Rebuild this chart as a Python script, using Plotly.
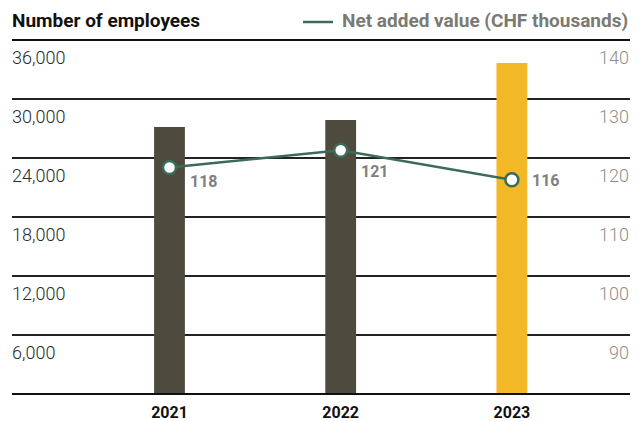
import plotly.graph_objects as go

years = ["2021", "2022", "2023"]
employees = [27150, 27860, 33660]
net_added_value = [118.4, 121.3, 116.3]
value_labels = ["118", "121", "116"]
bar_colors = ["#4e4a3e", "#4e4a3e", "#f2b826"]
left_ticks = [6000, 12000, 18000, 24000, 30000, 36000]
left_tick_text = ["6,000", "12,000", "18,000", "24,000", "30,000", "36,000"]
right_ticks = [90, 100, 110, 120, 130, 140]
right_tick_text = ["90", "100", "110", "120", "130", "140"]

FONT = "Roboto"
GREEN = "#3d6b5a"

fig = go.Figure()
fig.add_trace(go.Bar(
    x=years, y=employees, marker_color=bar_colors, width=0.18,
    marker_line_width=0, yaxis="y", showlegend=False, hoverinfo="skip",
))
fig.add_trace(go.Scatter(
    x=years, y=net_added_value, mode="lines+markers", yaxis="y2",
    line=dict(color=GREEN, width=2.5),
    marker=dict(size=13, color="white", line=dict(color=GREEN, width=2.5)),
    showlegend=False, hoverinfo="skip",
))

label_yshift = [-14, -21, -1]
for i, (y, t, ys) in enumerate(zip(net_added_value, value_labels, label_yshift)):
    fig.add_annotation(
        x=i, y=y, xref="x", yref="y2", text=t, showarrow=False,
        xshift=34, yshift=ys,
        font=dict(family=FONT, size=16, color="#808080", weight="bold"),
    )

# title & legend
fig.add_annotation(
    x=0, y=1, xref="paper", yref="paper", xanchor="left", yanchor="bottom",
    xshift=-2, yshift=6, text="Number of employees", showarrow=False,
    font=dict(family=FONT, size=19, color="#111111", weight="bold"),
)
fig.add_annotation(
    x=1, y=1, xref="paper", yref="paper", xanchor="right", yanchor="bottom",
    xshift=0, yshift=6, text="Net added value (CHF thousands)", showarrow=False,
    font=dict(family=FONT, size=19, color="#7a7a72", weight="bold"),
)
fig.add_shape(type="line", xref="paper", yref="paper",
              x0=(303 - 12) / 618, x1=(333 - 12) / 618,
              ysizemode="pixel", yanchor=1, y0=18, y1=18,
              line=dict(color=GREEN, width=2.5))

# top and bottom rules
fig.add_shape(type="line", xref="paper", yref="paper", x0=0, x1=1, y0=1, y1=1,
              line=dict(color="#111111", width=2), layer="below")
fig.add_shape(type="line", xref="paper", yref="paper", x0=0, x1=1, y0=0, y1=0,
              line=dict(color="#111111", width=2), layer="above")

fig.update_layout(
    width=641, height=421,
    margin=dict(l=12, r=11, t=40, b=27, autoexpand=False),
    plot_bgcolor="white", paper_bgcolor="white",
    font=dict(family=FONT),
    xaxis=dict(
        type="category", range=[-0.92, 2.69], showgrid=False, zeroline=False,
        showline=False, ticks="", ticklabelstandoff=7, automargin=False,
        tickfont=dict(family=FONT, size=16, color="#111111", weight="bold"),
    ),
    yaxis=dict(
        range=[0, 36000], tickvals=left_ticks, ticktext=left_tick_text,
        showgrid=True, gridcolor="#222222", gridwidth=1.5, zeroline=False,
        showline=False, ticks="", ticklabelposition="inside bottom",
        ticklabelshift=5, ticklabelstandoff=-3, automargin=False,
        tickfont=dict(family=FONT, size=18, color="#2a2a2a", weight=300),
    ),
    yaxis2=dict(
        range=[80, 140], tickvals=right_ticks, ticktext=right_tick_text,
        overlaying="y", side="right", showgrid=False, zeroline=False,
        showline=False, ticks="", ticklabelposition="inside bottom",
        ticklabelshift=5, ticklabelstandoff=-2, automargin=False,
        tickfont=dict(family=FONT, size=18, color="#8f8f8a", weight=300),
    ),
)

fig.write_html("out.html", post_script="document.body.style.margin='0';",
               config={"displayModeBar": False})
